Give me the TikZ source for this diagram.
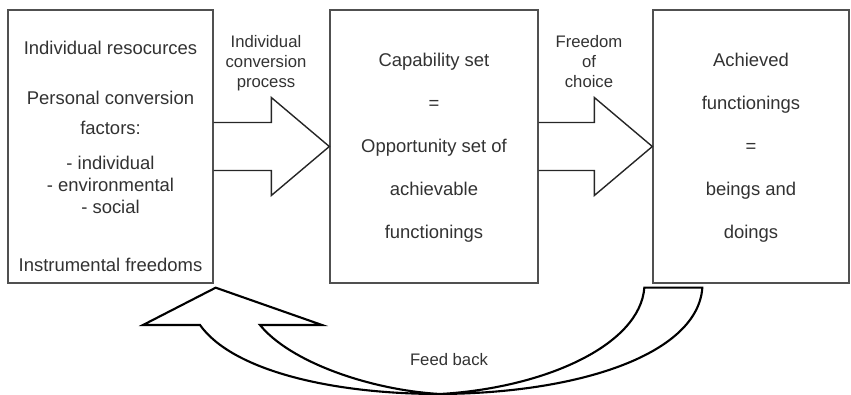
\documentclass[tikz,border=0pt]{standalone}
\usepackage{fontspec}
\setmainfont{Liberation Sans}
\usetikzlibrary{calc,positioning}
\definecolor{boxgray}{RGB}{80,80,80}
\definecolor{textgray}{RGB}{50,50,50}

\begin{document}
\begin{tikzpicture}[x=0.02cm,y=0.02cm,
    stagebox/.style={draw=boxgray,line width=0.8pt,minimum height=5.46cm,inner sep=0pt},
    stagetext/.style={text=textgray,align=center,anchor=north,inner sep=0pt,font=\fontsize{10.5}{24.4}\selectfont},
    arrowlab/.style={text=textgray,align=center,anchor=north,inner sep=0pt,font=\fontsize{9.5}{11.3}\selectfont},
    blockarr/.style={draw=black!85,line width=0.8pt,line join=miter},
    fbarr/.style={draw=black,line width=1.2pt,line join=miter}]
    \useasboundingbox (0,0) rectangle (851,-395);
    % the three stages
    \node[stagebox,minimum width=4.1cm] (resources) at (110.5,-146.5) {};
    \node[stagebox,minimum width=4.16cm] (capability) at (434,-146.5) {};
    \node[stagebox,minimum width=3.92cm] (achieved) at (751,-146.5) {};
    \node[stagetext,font=\fontsize{10.5}{12.5}\selectfont] (restext) at (110.5,-41)
      {Individual resocurces\\[16pt]
       Personal conversion\\[4.5pt]
       factors:\\[7.4pt]
       - individual\\
       - environmental\\
       - social\\[20.4pt]
       Instrumental freedoms};
    \node[stagetext] (captext) at (434,-53)
      {Capability set\\=\\Opportunity set of\\achievable\\functionings};
    \node[stagetext] (achtext) at (751,-53)
      {Achieved\\functionings\\=\\beings and\\doings};
    % block arrows between the stages
    \foreach \src/\dst in {resources/capability,capability/achieved}
      \draw[blockarr] ($(\src.east)+(0,24)$) -- ($(\dst.west)+(-58,24)$) -- ($(\dst.west)+(-58,49)$)
        -- (\dst.west) -- ($(\dst.west)+(-58,-49)$) -- ($(\dst.west)+(-58,-24)$) -- ($(\src.east)+(0,-24)$);
    \node[arrowlab] (convlab) at (266,-35) {Individual\\conversion\\process};
    \node[arrowlab] (choicelab) at (589,-35) {Freedom\\of\\choice};
    % feed back arrow
    \coordinate (fbtip) at ($(resources.south east)+(2,-4)$);
    \coordinate (fbtailin) at ($(achieved.south west)+(-8,-4)$);
    \coordinate (fbtailout) at ($(achieved.south west)+(50,-4)$);
    \coordinate (fbbottom) at (440,-394);
    \draw[fbarr] (fbtip) -- (322,-325) -- (260,-325)
      .. controls (290,-362) and (370,-390) .. (fbbottom)
      .. controls (545,-388) and (640,-345) .. (fbtailin) -- (fbtailout)
      .. controls (698,-352) and (585,-393) .. (fbbottom)
      .. controls (330,-394) and (232,-370) .. (200,-325) -- (143,-325) -- cycle;
    \node[arrowlab] (fblab) at (449,-353) {Feed back};
\end{tikzpicture}
\end{document}
